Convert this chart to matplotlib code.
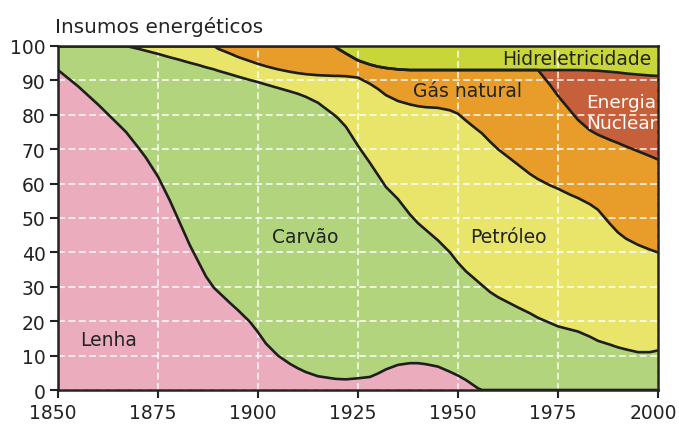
import numpy as np
import matplotlib
matplotlib.use("Agg")
import matplotlib.pyplot as plt
from matplotlib.transforms import ScaledTranslation

# anos e limites superiores acumulados de cada fonte (% do total)
anos = [1850, 1855, 1860, 1865, 1867, 1870, 1872, 1875, 1878, 1880,
        1883, 1885, 1887, 1889, 1890, 1893, 1895, 1898, 1900, 1902,
        1905, 1908, 1910, 1912, 1915, 1919, 1920, 1922, 1925, 1928,
        1930, 1932, 1935, 1938, 1940, 1942, 1945, 1948, 1950, 1952,
        1955, 1956, 1958, 1960, 1965, 1968, 1970, 1973, 1975, 1978,
        1980, 1983, 1985, 1988, 1990, 1992, 1995, 1998, 2000]

topo_lenha = [93, 88.3, 83, 77.3, 75, 70.6, 67.5, 62, 55, 49.8,
              42, 37.5, 33, 29.7, 28.6, 25.3, 23.2, 19.8, 16.8, 13.5,
              10, 7.6, 6.3, 5.2, 4, 3.3, 3.2, 3.1, 3.4, 3.8,
              4.8, 6, 7.3, 7.8, 7.8, 7.5, 6.8, 5.3, 4.2, 2.9,
              0.5] + [0] * 18
topo_carvao = [100, 100, 100, 100, 100, 99.2, 98.6, 97.7, 96.7, 96.1,
               95.1, 94.5, 93.8, 93.2, 92.8, 91.8, 91.1, 90.1, 89.5, 88.8,
               87.8, 86.8, 86.1, 85.2, 83.5, 80, 79, 76.5, 71, 66,
               62.5, 59, 55.5, 51, 48.5, 46.5, 43.5, 40, 37, 34.5,
               31.5, 30.5, 28.5, 27, 24, 22.3, 21, 19.5, 18.5, 17.6,
               17, 15.5, 14.3, 13.2, 12.4, 11.8, 11, 11, 11.5]
topo_petroleo = [100] * 14 + [99.2, 97.8, 96.8, 95.6, 94.8, 94.1,
                              93.2, 92.5, 92.1, 91.8, 91.5, 91.3, 91.3, 91.2, 90.8, 89,
                              87.5, 85.7, 84, 83, 82.5, 82.2, 82, 81.3, 80.3, 78.3,
                              75.5, 74.6, 72.2, 70, 65.5, 62.8, 61.3, 59.5, 58.5, 56.8,
                              55.8, 54, 52.4, 48.3, 45.8, 44, 42.2, 40.8, 40]
topo_gas = [100] * 26 + [99.2, 97.8, 95.8, 94.6, 94, 93.6, 93.2, 93, 93] + [93] * 12 + \
           [88.7, 85.5, 81.3, 78.5, 75.5, 74.2, 72.7, 71.8, 70.8, 69.4, 68, 67]
topo_nuclear = [100] * 26 + [99.2, 97.8, 95.8, 94.6, 94, 93.6, 93.2, 93, 93] + [93] * 12 + \
               [93, 93, 93, 93, 92.9, 92.8, 92.5, 92.3, 92, 91.7, 91.4, 91.3]
topo_hidro = [100] * 59

nomes = ["Lenha", "Carvão", "Petróleo", "Gás natural", "Energia Nuclear", "Hidreletricidade"]
cores = ["#ebadbe", "#b2d47c", "#e8e56a", "#e89c2a", "#c6603a", "#c8d63a"]
limites = [np.zeros(len(anos)), topo_lenha, topo_carvao, topo_petroleo,
           topo_gas, topo_nuclear, topo_hidro]

fig = plt.figure(figsize=(6.79, 4.27), dpi=100)
ax = fig.add_axes([0.0854, 0.0843, 0.8836, 0.8057])

for i, cor in enumerate(cores):
    ax.fill_between(anos, limites[i], limites[i + 1], color=cor, lw=0, zorder=1)

# contornos entre as camadas
for linha in limites[1:-1]:
    ax.plot(anos, linha, color="#1e1e1e", lw=1.9, zorder=3)

ax.set_xlim(1850, 2000)
ax.set_ylim(0, 100)
ax.set_xticks([1850, 1875, 1900, 1925, 1950, 1975, 2000])
ax.set_yticks(range(0, 101, 10))
ax.set_axisbelow(False)
ax.grid(True, color="white", ls=(0, (4.5, 2.3)), lw=1.1, alpha=0.95)
ax.tick_params(labelsize=13.5, length=6, width=1.5, color="#222222",
               labelcolor="#222222", pad=3)
desloc = ScaledTranslation(-5 / 100, 0, fig.dpi_scale_trans)
for rot in ax.get_xticklabels():
    rot.set_transform(rot.get_transform() + desloc)
for lado in ax.spines.values():
    lado.set_color("#222222")
    lado.set_linewidth(1.8)
    lado.set_zorder(4)

fig.text(0.081, 1 - 33 / 427, "Insumos energéticos", fontsize=14.4,
         color="#222222", va="baseline", ha="left")

txt = dict(fontsize=13.5, color="#222222", ha="center", va="center", zorder=5)
ax.text(1862.6, 14.8, nomes[0], **txt)
ax.text(1911.8, 44.5, nomes[1], **txt)
ax.text(1962.5, 44.5, nomes[2], **txt)
ax.text(1952.5, 87.2, nomes[3], **txt)
ax.text(1979.8, 96.4, nomes[5], **txt)
ax.text(1990.9, 80.7, nomes[4].replace(" ", "\n"), fontsize=13.3, color="white",
        ha="center", va="center", linespacing=1.25, zorder=5)

fig.savefig("out.png", dpi=100)
